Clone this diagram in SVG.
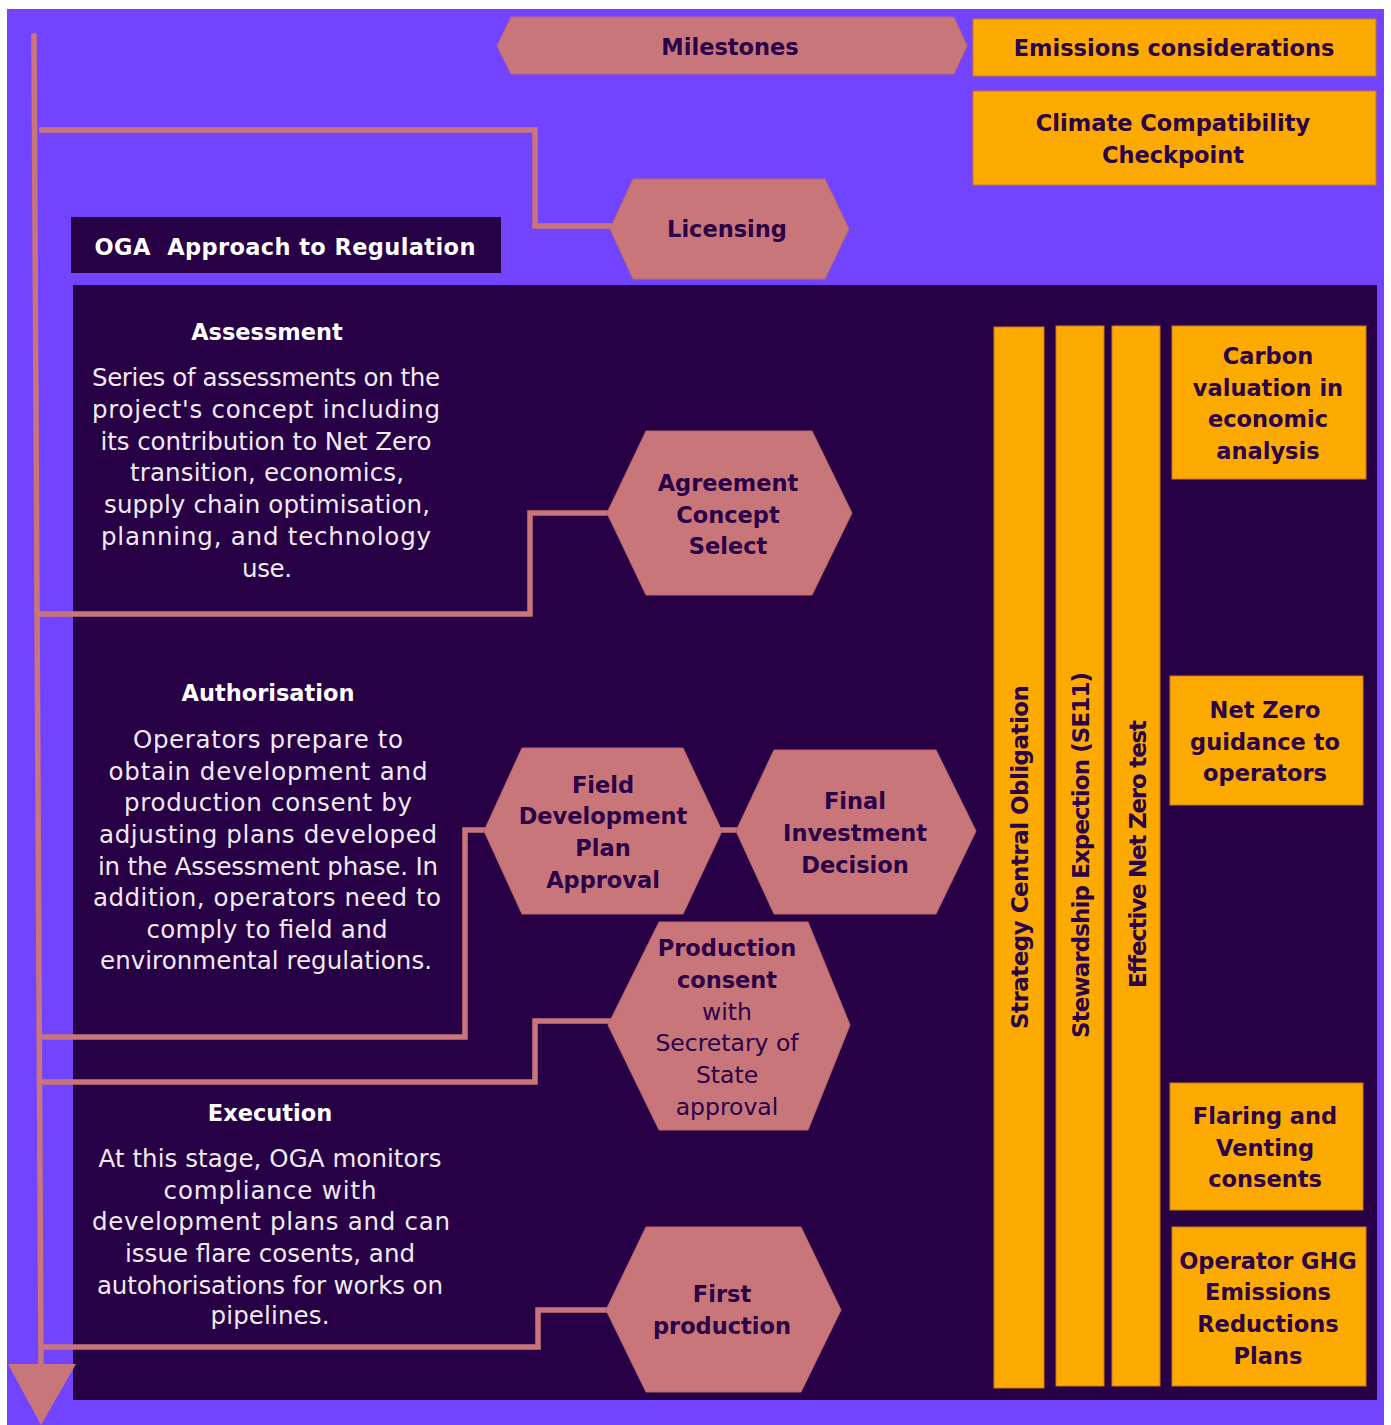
<svg xmlns="http://www.w3.org/2000/svg" width="1391" height="1425" viewBox="0 0 1391 1425">
<style>
.hex{fill:#C87679;stroke:#B9686F;stroke-width:1}
.obox{fill:#FDAA00;stroke:#C9791E;stroke-width:1}
.con{fill:none;stroke:#C87679;stroke-width:5.5;stroke-linecap:square;stroke-linejoin:miter}
.lbl{font-family:"DejaVu Sans",sans-serif;font-weight:bold;font-size:22.5px;fill:#2A0049;text-anchor:middle}
.lblr{font-family:"DejaVu Sans",sans-serif;font-size:23.5px;fill:#2A0049;text-anchor:middle}
.ttl{font-family:"DejaVu Sans",sans-serif;font-weight:bold;font-size:22.5px;fill:#FFFFFF;text-anchor:middle}
.body{font-family:"DejaVu Sans",sans-serif;font-size:24.5px;fill:#F1EAF3;text-anchor:middle}
.vert{font-family:"DejaVu Sans",sans-serif;font-weight:bold;font-size:23px;fill:#2A0049;text-anchor:middle}
</style>
<rect x="0" y="0" width="1391" height="1425" fill="#FFFFFF"/>
<rect x="7" y="9" width="1377" height="1416" fill="#7344FF"/>
<rect x="73" y="285" width="1304" height="1115" fill="#280046"/>

<g id="connectors">
<polyline class="con" points="34,36 41,1366"/>
<polygon points="8,1364 76,1364 41,1425" fill="#C87679"/>
<polyline class="con" points="42,130 535,130 535,226 611,226"/>
<polyline class="con" points="39,614 530,614 530,513 607,513"/>
<polyline class="con" points="45,1037 465,1037 465,830 485,830"/>
<polyline class="con" points="42,1082 535,1082 535,1021 609,1021"/>
<polyline class="con" points="42,1347 538,1347 538,1310 607,1310"/>
<line class="con" x1="722" y1="830" x2="737" y2="830"/>
</g>

<g id="oga-title">
<rect x="71" y="217" width="430" height="56" fill="#280046"/>
<text x="285" y="255" class="ttl" font-size="23.5px" textLength="381" xml:space="preserve">OGA  Approach to Regulation</text>
</g>

<g id="milestones">
<polygon class="hex" points="497,46 511,17 954,17 967,46 954,74 511,74"/>
<text x="730" y="55" class="lbl">Milestones</text>
</g>
<g id="emissions-considerations">
<rect class="obox" x="973" y="19" width="403" height="57"/>
<text x="1174" y="56" class="lbl" font-size="21.5px">Emissions considerations</text>
</g>
<g id="climate-checkpoint">
<rect class="obox" x="973" y="91" width="403" height="94"/>
<text x="1173" y="131" class="lbl">Climate Compatibility</text>
<text x="1173" y="163" class="lbl">Checkpoint</text>
</g>
<g id="licensing">
<polygon class="hex" points="610,229 633,179 825,179 849,229 825,279 633,279"/>
<text x="727" y="237" class="lbl">Licensing</text>
</g>

<g id="assessment">
<text x="267" y="340" class="ttl">Assessment</text>
<text x="266" y="386" class="body" textLength="348">Series of assessments on the</text>
<text x="266" y="418" class="body" textLength="348">project's concept including</text>
<text x="266" y="450" class="body" textLength="331">its contribution to Net Zero</text>
<text x="267" y="481" class="body" textLength="274">transition, economics,</text>
<text x="267" y="513" class="body" textLength="326">supply chain optimisation,</text>
<text x="266" y="545" class="body" textLength="330">planning, and technology</text>
<text x="267" y="577" class="body" textLength="50">use.</text>
</g>

<g id="authorisation">
<text x="268" y="701" class="ttl">Authorisation</text>
<text x="268" y="748" class="body" textLength="270">Operators prepare to</text>
<text x="268" y="780" class="body" textLength="319">obtain development and</text>
<text x="268" y="811" class="body" textLength="288">production consent by</text>
<text x="268" y="843" class="body" textLength="338">adjusting plans developed</text>
<text x="268" y="875" class="body" textLength="340">in the Assessment phase. In</text>
<text x="267" y="906" class="body" textLength="348">addition, operators need to</text>
<text x="267" y="938" class="body" textLength="241">comply to field and</text>
<text x="266" y="969" class="body" textLength="332">environmental regulations.</text>
</g>

<g id="execution">
<text x="270" y="1121" class="ttl">Execution</text>
<text x="270" y="1167" class="body" textLength="343">At this stage, OGA monitors</text>
<text x="270" y="1199" class="body" textLength="213">compliance with</text>
<text x="271" y="1230" class="body" textLength="358">development plans and can</text>
<text x="270" y="1262" class="body" textLength="290">issue flare cosents, and</text>
<text x="270" y="1294" class="body" textLength="346">autohorisations for works on</text>
<text x="270" y="1324" class="body" textLength="119">pipelines.</text>
</g>

<g id="agreement-concept-select">
<polygon class="hex" points="607,513 646,431 812,431 852,513 812,595 646,595"/>
<text x="728" y="491" class="lbl">Agreement</text>
<text x="728" y="523" class="lbl">Concept</text>
<text x="728" y="554" class="lbl">Select</text>
</g>

<g id="field-development-plan-approval">
<polygon class="hex" points="484,831 522,748 683,748 722,831 683,914 522,914"/>
<text x="603" y="793" class="lbl">Field</text>
<text x="603" y="824" class="lbl">Development</text>
<text x="603" y="856" class="lbl">Plan</text>
<text x="603" y="888" class="lbl">Approval</text>
</g>

<g id="final-investment-decision">
<polygon class="hex" points="736,831 774,750 936,750 976,831 936,914 774,914"/>
<text x="855" y="809" class="lbl">Final</text>
<text x="855" y="841" class="lbl">Investment</text>
<text x="855" y="873" class="lbl">Decision</text>
</g>

<g id="production-consent">
<polygon class="hex" points="608,1025 659,922 808,922 850,1025 808,1130 659,1130"/>
<text x="727" y="956" class="lbl">Production</text>
<text x="727" y="988" class="lbl">consent</text>
<text x="727" y="1020" class="lblr">with</text>
<text x="727" y="1051" class="lblr">Secretary of</text>
<text x="727" y="1083" class="lblr">State</text>
<text x="727" y="1115" class="lblr">approval</text>
</g>

<g id="first-production">
<polygon class="hex" points="606,1310 646,1227 801,1227 841,1310 801,1392 646,1392"/>
<text x="722" y="1302" class="lbl">First</text>
<text x="722" y="1334" class="lbl">production</text>
</g>

<g id="strategy-central-obligation">
<rect class="obox" x="994" y="327" width="50" height="1061"/>
<text class="vert" transform="translate(1020,857) rotate(-90)" x="0" y="8" textLength="344">Strategy Central Obligation</text>
</g>
<g id="stewardship-expectation">
<rect class="obox" x="1056" y="326" width="48" height="1060"/>
<text class="vert" transform="translate(1081,855) rotate(-90)" x="0" y="8" textLength="366">Stewardship Expection (SE11)</text>
</g>
<g id="effective-net-zero-test">
<rect class="obox" x="1112" y="326" width="48" height="1060"/>
<text class="vert" transform="translate(1138,854) rotate(-90)" x="0" y="8" textLength="268">Effective Net Zero test</text>
</g>

<g id="carbon-valuation">
<rect class="obox" x="1172" y="326" width="194" height="153"/>
<text x="1268" y="364" class="lbl">Carbon</text>
<text x="1268" y="396" class="lbl">valuation in</text>
<text x="1268" y="427" class="lbl">economic</text>
<text x="1268" y="459" class="lbl">analysis</text>
</g>
<g id="net-zero-guidance">
<rect class="obox" x="1170" y="676" width="193" height="129"/>
<text x="1265" y="718" class="lbl">Net Zero</text>
<text x="1265" y="750" class="lbl">guidance to</text>
<text x="1265" y="781" class="lbl">operators</text>
</g>
<g id="flaring-venting">
<rect class="obox" x="1170" y="1083" width="193" height="127"/>
<text x="1265" y="1124" class="lbl">Flaring and</text>
<text x="1265" y="1156" class="lbl">Venting</text>
<text x="1265" y="1187" class="lbl">consents</text>
</g>
<g id="operator-ghg">
<rect class="obox" x="1172" y="1227" width="194" height="159"/>
<text x="1268" y="1269" class="lbl">Operator GHG</text>
<text x="1268" y="1300" class="lbl">Emissions</text>
<text x="1268" y="1332" class="lbl">Reductions</text>
<text x="1268" y="1364" class="lbl">Plans</text>
</g>
</svg>
